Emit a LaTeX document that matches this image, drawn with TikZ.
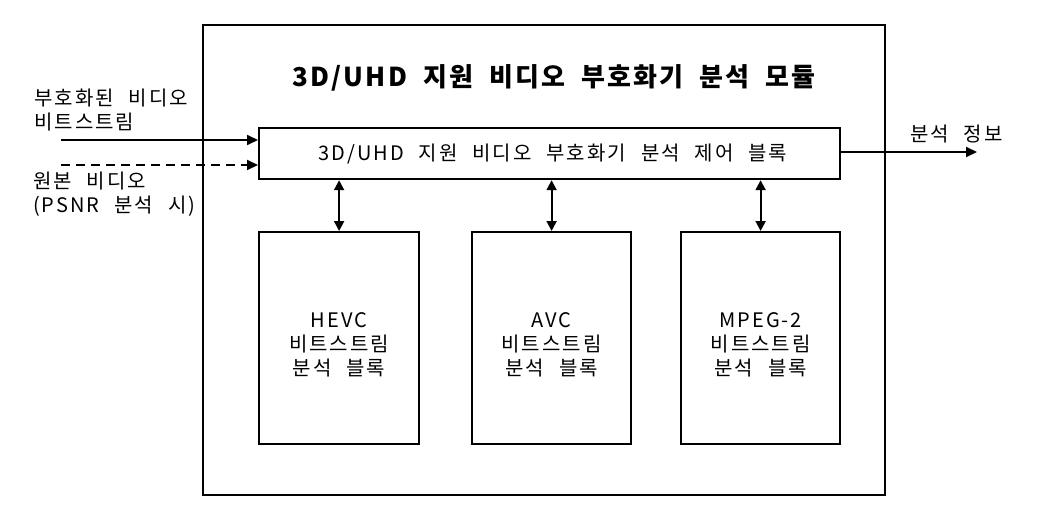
\documentclass[tikz,border=0pt]{standalone}
\usepackage{fontspec}
\setmainfont{Noto Sans CJK KR}[LetterSpace=10,WordSpace=2.3]
\newfontfamily\titlefont{Noto Sans CJK KR}[LetterSpace=9,WordSpace=1.9]
\usetikzlibrary{arrows.meta}
\begin{document}
\begin{tikzpicture}[x=1pt,y=-1pt,
  box/.style={draw=black,line width=2.2pt,fill=white},
  conn/.style={line width=2pt,-{Triangle[length=11pt,width=10pt]}},
  biconn/.style={line width=2pt,{Triangle[length=10pt,width=10pt]}-{Triangle[length=10pt,width=10pt]}},
  lbl/.style={font=\fontsize{20}{24}\selectfont,inner sep=0pt,align=center}]
\useasboundingbox[fill=white] (0,0) rectangle (1048,506);
\node[box,minimum width=682pt,minimum height=470pt,anchor=north west] (outer) at (202,24) {};
\node[lbl,font=\titlefont\fontsize{26}{30}\selectfont\bfseries] (title) at (554,78) {3D/UHD 지원 비디오 부호화기 분석 모듈};
\node[box,minimum width=581pt,minimum height=51pt,anchor=north west] (ctrl) at (258,127) {};
\node[lbl] (ctrltext) at (553,154) {3D/UHD 지원 비디오 부호화기 분석 제어 블록};
\node[box,minimum width=160pt,minimum height=212pt,anchor=north west] (hevc) at (258,231) {};
\node[box,minimum width=159pt,minimum height=212pt,anchor=north west] (avc) at (471,231) {};
\node[box,minimum width=159pt,minimum height=212pt,anchor=north west] (mpeg) at (680,231) {};
\node[lbl] (hevct) at ([yshift=-7pt]hevc.center) {HEVC\\비트스트림\\분석 블록};
\node[lbl] (avct) at ([yshift=-7pt]avc.center) {AVC\\비트스트림\\분석 블록};
\node[lbl] (mpegt) at ([yshift=-7pt]mpeg.center) {MPEG-2\\비트스트림\\분석 블록};
\draw[biconn] (ctrl.south -| hevc.center) -- (hevc.north);
\draw[biconn] (ctrl.south -| avc.center) -- (avc.north);
\draw[biconn] (ctrl.south -| mpeg.center) -- (mpeg.north);
\coordinate (in1) at (61,140);
\coordinate (in2) at (61,165);
\coordinate (outp) at (977,152);
\draw[conn] (in1) -- (in1 -| ctrl.west);
\draw[conn,dash pattern=on 9pt off 6pt] (in2) -- (in2 -| ctrl.west);
\draw[conn] (ctrl.east |- outp) -- (outp);
\node[lbl,align=left,anchor=west] (inl1) at (34,110) {부호화된 비디오\\비트스트림};
\node[lbl,align=left,anchor=west] (inl2) at (33,194) {원본 비디오\\(PSNR 분석 시)};
\node[lbl,anchor=west] (outl) at (910,134) {분석 정보};
\end{tikzpicture}
\end{document}
